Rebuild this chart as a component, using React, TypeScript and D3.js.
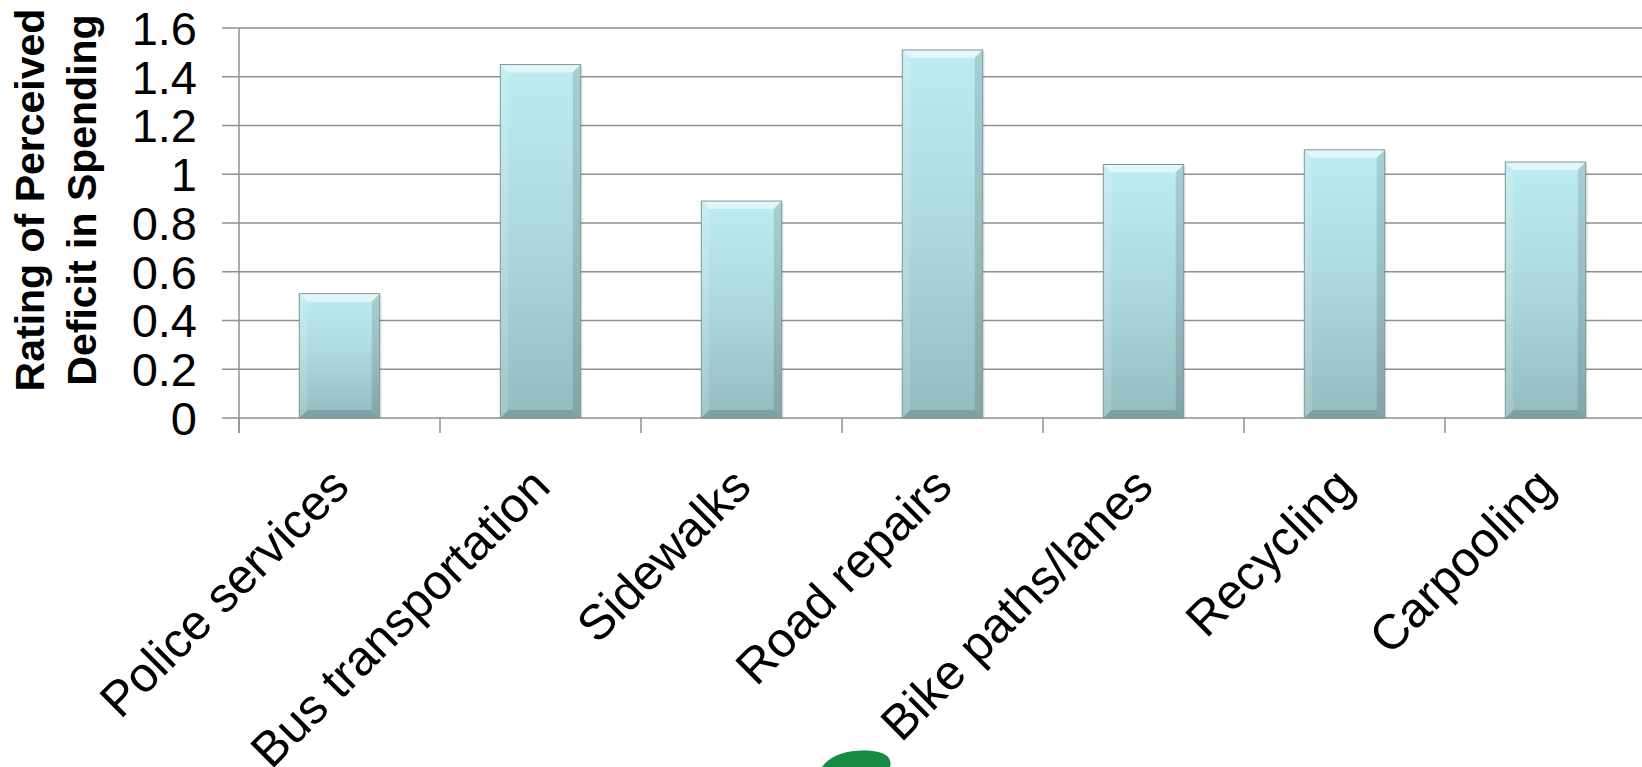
import React from "react";
import * as d3 from "d3";

const categories = [
  "Police services",
  "Bus transportation",
  "Sidewalks",
  "Road repairs",
  "Bike paths/lanes",
  "Recycling",
  "Carpooling",
];
const values = [0.51, 1.45, 0.89, 1.51, 1.04, 1.1, 1.05];
const yTicks = [0, 0.2, 0.4, 0.6, 0.8, 1, 1.2, 1.4, 1.6];
const titleLines = ["Rating of Perceived", "Deficit in Spending"];

const W = 1642;
const H = 767;
const left = 239;
const top = 28;
const bottom = 418;
const bandW = 201;

const App: React.FC = () => {
  const x = d3
    .scaleBand<string>()
    .domain(categories)
    .range([left, left + bandW * categories.length])
    .padding(0);
  const y = d3.scaleLinear().domain([0, 1.6]).range([bottom, top]);
  const bw = x.bandwidth() / 2.5;
  const bv = 8;
  const font = "'Liberation Sans', Arial, sans-serif";

  return (
    <svg
      width={W}
      height={H}
      style={{ position: "absolute", left: 0, top: 0, background: "#fff" }}
    >
      <defs>
        <linearGradient id="barFill" x1="0" y1="0" x2="0" y2="1">
          <stop offset="0%" stopColor="#bdedf1" />
          <stop offset="50%" stopColor="#acd8dc" />
          <stop offset="100%" stopColor="#93bcbf" />
        </linearGradient>
      </defs>

      {/* gridlines */}
      {yTicks.map((t) => (
        <line
          key={"g" + t}
          x1={left - 17}
          x2={W}
          y1={y(t)}
          y2={y(t)}
          stroke="#909090"
          strokeWidth={1.5}
        />
      ))}
      <line x1={left} x2={left} y1={top} y2={bottom + 15} stroke="#909090" strokeWidth={1.5} />
      {d3.range(categories.length + 1).map((i) => (
        <line
          key={"c" + i}
          x1={left + i * bandW}
          x2={left + i * bandW}
          y1={bottom}
          y2={bottom + 15}
          stroke="#909090"
          strokeWidth={1.5}
        />
      ))}

      {/* bars */}
      {categories.map((c, i) => {
        const bx = (x(c) as number) + (x.bandwidth() - bw) / 2;
        const by = y(values[i]);
        const h = bottom - by;
        return (
          <g key={c}>
            <rect x={bx + 2} y={by + 2} width={bw} height={h - 2} fill="#000" opacity={0.08} />
            <rect x={bx} y={by} width={bw} height={h} fill="url(#barFill)" />
            <polygon
              points={`${bx},${by} ${bx + bw},${by} ${bx + bw - bv},${by + bv} ${bx + bv},${by + bv}`}
              fill="#fff"
              opacity={0.55}
            />
            <polygon
              points={`${bx},${by} ${bx + bv},${by + bv} ${bx + bv},${by + h - bv} ${bx},${by + h}`}
              fill="#fff"
              opacity={0.15}
            />
            <polygon
              points={`${bx + bw},${by} ${bx + bw - bv},${by + bv} ${bx + bw - bv},${by + h - bv} ${bx + bw},${by + h}`}
              fill="#000"
              opacity={0.12}
            />
            <polygon
              points={`${bx},${by + h} ${bx + bv},${by + h - bv} ${bx + bw - bv},${by + h - bv} ${bx + bw},${by + h}`}
              fill="#000"
              opacity={0.15}
            />
            <rect x={bx} y={by} width={bw} height={h} fill="none" stroke="#7d9799" strokeWidth={1} />
          </g>
        );
      })}

      {/* y tick labels */}
      {yTicks.map((t) => (
        <text
          key={"t" + t}
          x={197}
          y={y(t)}
          dy="0.36em"
          textAnchor="end"
          fontFamily={font}
          fontSize={47}
          fill="#000"
        >
          {d3.format("~g")(t)}
        </text>
      ))}

      {/* axis title */}
      {titleLines.map((line, i) => (
        <text
          key={line}
          transform={`translate(${44 + i * 52},200) rotate(-90)`}
          textAnchor="middle"
          fontFamily={font}
          fontSize={41}
          fontWeight="bold"
          fill="#000"
        >
          {line}
        </text>
      ))}

      {/* category labels */}
      {categories.map((c) => {
        const cx = (x(c) as number) + x.bandwidth() / 2 + 12;
        const cy = bottom + 71;
        return (
          <text
            key={"l" + c}
            transform={`translate(${cx},${cy}) rotate(-45)`}
            textAnchor="end"
            fontFamily={font}
            fontSize={49}
            fill="#000"
          >
            {c}
          </text>
        );
      })}

      {/* partial logo at bottom */}
      <path d="M822,767 C832,752 858,748 878,752 C888,754 892,760 890,767 Z" fill="#178a43" />
    </svg>
  );
};

export default App;
